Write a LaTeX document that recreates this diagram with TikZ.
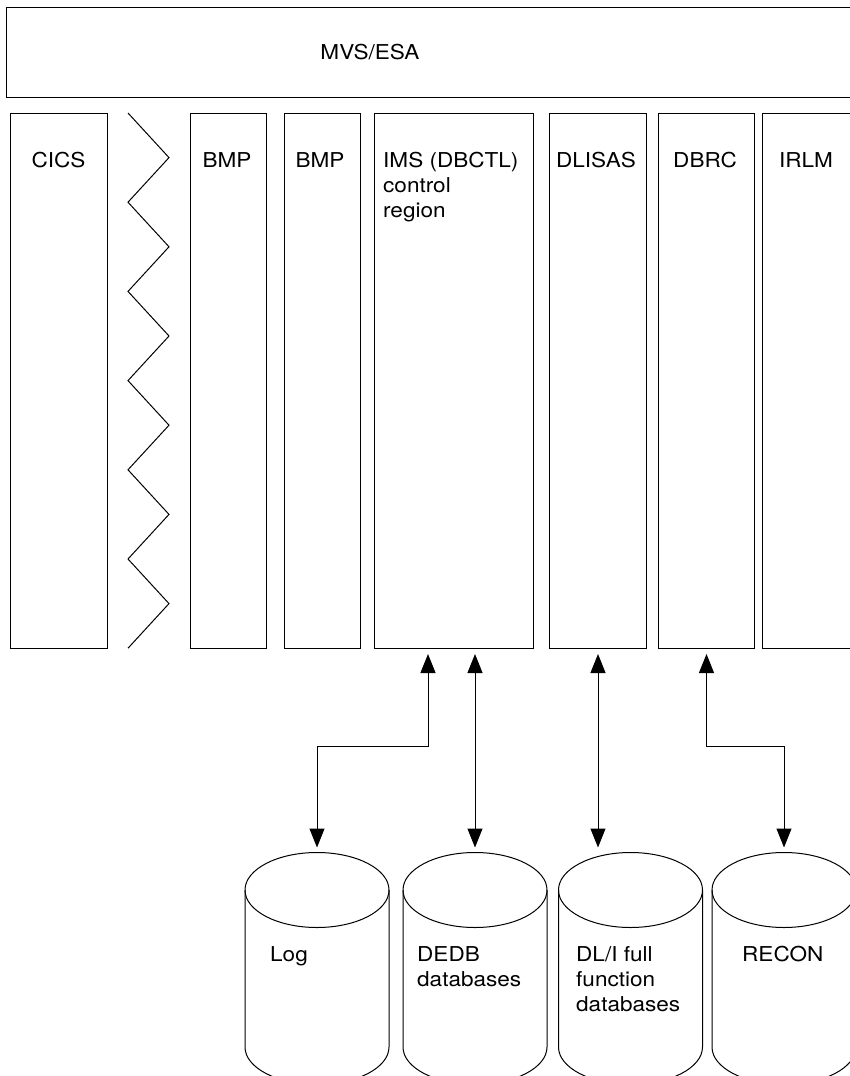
\documentclass[tikz,border=0pt]{standalone}
\usepackage{fontspec}
\setmainfont{TeX Gyre Heros}[FakeStretch=1.1]
\usetikzlibrary{arrows.meta}

\begin{document}
\begin{tikzpicture}[x=1pt, y=-1pt, font=\fontsize{20.5}{25}\selectfont,
    region/.style={draw, line width=1pt, minimum height=535pt, inner sep=0pt, anchor=north west},
    lbl/.style={inner sep=0pt, anchor=base},
    link/.style={line width=1pt, {Triangle[width=15pt,length=19pt]}-{Triangle[width=15pt,length=19pt]},
      shorten <=5pt, shorten >=5pt}]

    % constants
    \def\rtop{113}
    \def\ctop{890}
    \def\cbot{1047}

    \useasboundingbox (0,0) rectangle (849,1076);

    % operating system
    \node[draw, line width=1pt, anchor=north west, inner sep=0pt, minimum width=880pt, minimum height=90pt] (mvs) at (6,7) {};
    \node[lbl] (mvstext) at (370,59) {MVS/ESA};

    % address spaces
    \node[region, minimum width=97pt] (cics) at (10,\rtop) {};
    \node[region, minimum width=76pt] (bmpa) at (190,\rtop) {};
    \node[region, minimum width=76pt] (bmpb) at (284,\rtop) {};
    \node[region, minimum width=159pt] (ims) at (374,\rtop) {};
    \node[region, minimum width=97pt] (dlisas) at (549,\rtop) {};
    \node[region, minimum width=96pt] (dbrc) at (658,\rtop) {};
    \node[region, minimum width=110pt] (irlm) at (762,\rtop) {};

    % labels (the base of a multi-line label is its last line)
    \node[lbl] (cicstext) at (58.5,167) {CICS};
    \node[lbl] (bmpatext) at (227,167) {BMP};
    \node[lbl] (bmpbtext) at (320,167) {BMP};
    \node[lbl, anchor=base west, align=left] (imstext) at (383,217) {IMS (DBCTL)\\control\\region};
    \node[lbl] (dlisastext) at (596,167) {DLISAS};
    \node[lbl] (dbrctext) at (705,167) {DBRC};
    \node[lbl] (irlmtext) at (806,167) {IRLM};

    % break between CICS and the BMPs
    \draw[line width=1pt] (128,113) \foreach \k in {0,...,5} { -- (169,157.6+89.2*\k) -- (128,202.2+89.2*\k) };

    % data sets
    \foreach \cx/\nm in {317/log, 475/dedb, 630.5/dli, 784/recon} {
      \coordinate (\nm) at (\cx,852.5);
      \draw[line width=1pt] (\cx,\ctop) ellipse [x radius=72, y radius=37.5];
      \draw[line width=1pt] (\cx-72,\ctop) -- (\cx-72,\cbot)
        arc [start angle=180, end angle=0, x radius=72, y radius=37.5] -- (\cx+72,\ctop);
    }

    \node[lbl, anchor=base west] (logtext) at (270,961) {Log};
    \node[lbl, anchor=base west, align=left] (dedbtext) at (417,986) {DEDB\\databases};
    \node[lbl, anchor=base west, align=left] (dlitext) at (576,1011) {DL/I full\\function\\databases};
    \node[lbl, anchor=base west] (recontext) at (742,961) {RECON};

    % connections
    \draw[link] ([xshift=54pt]ims.south west) -- ++(0,97) -| (log);
    \draw[link] (ims.south -| dedb) -- (dedb);
    \draw[link] (dlisas.south) -- (dlisas.south |- dli);
    \draw[link] (dbrc.south) -- ++(0,97) -| (recon);

\end{tikzpicture}
\end{document}
